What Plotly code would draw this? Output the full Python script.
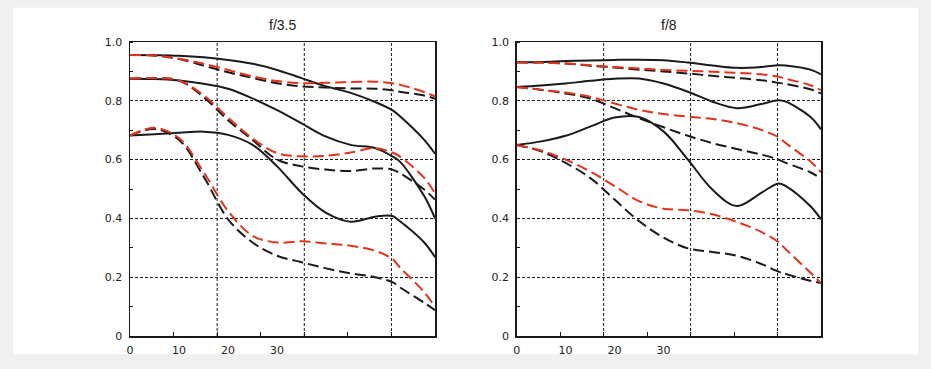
import plotly.graph_objects as go

# ---------------- data ----------------
x = [0, 5, 10, 15, 20, 25, 30, 35, 40, 45, 50, 53.5, 55, 60, 62.2]
x_max = 62.2
x_tick_labels = [0, 10, 20, 30]
y_tick_vals = [0, 0.2, 0.4, 0.6, 0.8, 1.0]
y_tick_text = ["0", "0.2", "0.4", "0.6", "0.8", "1.0"]
titles = ["f/3.5", "f/8"]

# f/3.5
a_solid_1 = [0.956, 0.955, 0.953, 0.948, 0.939, 0.926, 0.905, 0.877, 0.849, 0.827, 0.796, 0.768, 0.748, 0.667, 0.620]
a_solid_2 = [0.875, 0.874, 0.869, 0.858, 0.841, 0.808, 0.768, 0.723, 0.678, 0.650, 0.639, 0.611, 0.594, 0.476, 0.400]
a_solid_3 = [0.682, 0.686, 0.691, 0.695, 0.684, 0.650, 0.577, 0.487, 0.419, 0.389, 0.406, 0.408, 0.391, 0.318, 0.268]
a_black_1 = [0.956, 0.954, 0.942, 0.920, 0.897, 0.878, 0.860, 0.849, 0.845, 0.842, 0.841, 0.836, 0.831, 0.818, 0.807]
a_black_2 = [0.875, 0.877, 0.869, 0.813, 0.734, 0.667, 0.600, 0.577, 0.566, 0.561, 0.570, 0.566, 0.554, 0.498, 0.464]
a_black_3 = [0.682, 0.704, 0.667, 0.543, 0.397, 0.318, 0.273, 0.251, 0.230, 0.213, 0.200, 0.183, 0.166, 0.113, 0.088]
a_red_1 = [0.956, 0.954, 0.943, 0.926, 0.905, 0.883, 0.867, 0.860, 0.861, 0.864, 0.865, 0.860, 0.855, 0.830, 0.815]
a_red_2 = [0.875, 0.877, 0.869, 0.819, 0.743, 0.672, 0.622, 0.611, 0.613, 0.624, 0.639, 0.624, 0.611, 0.538, 0.485]
a_red_3 = [0.682, 0.708, 0.673, 0.558, 0.425, 0.341, 0.318, 0.322, 0.315, 0.307, 0.290, 0.262, 0.234, 0.149, 0.099]

# f/8
b_solid_1 = [0.931, 0.932, 0.935, 0.937, 0.939, 0.940, 0.938, 0.930, 0.920, 0.912, 0.915, 0.921, 0.920, 0.906, 0.890]
b_solid_2 = [0.847, 0.852, 0.859, 0.868, 0.875, 0.876, 0.859, 0.831, 0.797, 0.775, 0.789, 0.802, 0.797, 0.746, 0.703]
b_solid_3 = [0.650, 0.662, 0.681, 0.712, 0.743, 0.745, 0.696, 0.600, 0.498, 0.442, 0.487, 0.519, 0.510, 0.442, 0.397]
b_black_1 = [0.931, 0.930, 0.927, 0.919, 0.913, 0.906, 0.900, 0.893, 0.885, 0.878, 0.870, 0.861, 0.857, 0.839, 0.825]
b_black_2 = [0.847, 0.837, 0.825, 0.808, 0.775, 0.741, 0.710, 0.681, 0.656, 0.636, 0.617, 0.600, 0.589, 0.557, 0.536]
b_black_3 = [0.650, 0.628, 0.589, 0.538, 0.464, 0.391, 0.335, 0.298, 0.286, 0.273, 0.245, 0.219, 0.211, 0.188, 0.180]
b_red_1 = [0.931, 0.930, 0.927, 0.921, 0.915, 0.910, 0.905, 0.902, 0.899, 0.895, 0.890, 0.882, 0.875, 0.853, 0.836]
b_red_2 = [0.847, 0.838, 0.828, 0.814, 0.791, 0.769, 0.755, 0.746, 0.738, 0.724, 0.701, 0.676, 0.656, 0.594, 0.557]
b_red_3 = [0.650, 0.631, 0.600, 0.560, 0.510, 0.459, 0.433, 0.428, 0.414, 0.388, 0.354, 0.320, 0.295, 0.216, 0.180]

panels = [
    ([a_solid_1, a_solid_2, a_solid_3], [a_black_1, a_black_2, a_black_3], [a_red_1, a_red_2, a_red_3]),
    ([b_solid_1, b_solid_2, b_solid_3], [b_black_1, b_black_2, b_black_3], [b_red_1, b_red_2, b_red_3]),
]

# ---------------- figure ----------------
W, H = 931, 369
ml, mr, mt, mb = 130, 110, 41.5, 31.4
pw, ph = W - ml - mr, H - mt - mb

def px_x(p):
    return (p - ml) / pw

def px_y(p):
    return (H - mb - p) / ph

domains = [[0, px_x(435)], [px_x(516.7), 1]]

BLACK = "#1a1a1a"
RED = "#e5321d"
DASH = "11px,5px"

fig = go.Figure()
for i, (solids, blacks, reds) in enumerate(panels):
    xa = "x" if i == 0 else "x2"
    ya = "y" if i == 0 else "y2"
    for s in solids:
        fig.add_trace(go.Scatter(x=x, y=s, xaxis=xa, yaxis=ya, mode="lines",
                                 line=dict(color=BLACK, width=2, shape="spline", smoothing=1),
                                 showlegend=False, hoverinfo="skip"))
    for s in blacks:
        fig.add_trace(go.Scatter(x=x, y=s, xaxis=xa, yaxis=ya, mode="lines",
                                 line=dict(color=BLACK, width=2, dash=DASH, shape="spline", smoothing=1),
                                 showlegend=False, hoverinfo="skip"))
    for s in reds:
        fig.add_trace(go.Scatter(x=x, y=s, xaxis=xa, yaxis=ya, mode="lines",
                                 line=dict(color=RED, width=2, dash=DASH, shape="spline", smoothing=1),
                                 showlegend=False, hoverinfo="skip"))

tick_step = x_max / 7
minor_x = [tick_step * k for k in range(1, 7)]
grid_x = [tick_step * k for k in (2, 4, 6)]

tick_font = dict(family="DejaVu Sans", size=11, color="#222")

def xaxis_cfg(dom):
    return dict(domain=dom, range=[0, x_max], tickvals=x_tick_labels,
                ticktext=[str(v) for v in x_tick_labels], ticks="", showgrid=False,
                zeroline=False, showline=True, linecolor=BLACK, linewidth=1.5, mirror=True,
                tickfont=tick_font, ticklabelstandoff=3,
                minor=dict(tickvals=minor_x, ticks="inside", ticklen=4, tickcolor=BLACK,
                           tickwidth=1, showgrid=False))

def yaxis_cfg(anchor):
    return dict(domain=[0, 1], range=[0, 1], anchor=anchor, tickvals=y_tick_vals,
                ticktext=y_tick_text, ticks="", showgrid=True, gridcolor=BLACK,
                gridwidth=1, griddash="3px,2px", zeroline=False, showline=True,
                linecolor=BLACK, linewidth=1.5, mirror=True, tickfont=tick_font,
                ticklabelstandoff=4,
                minor=dict(dtick=0.1, tick0=0, ticks="inside", ticklen=3,
                           tickcolor=BLACK, tickwidth=1, showgrid=False))

shapes = [dict(type="rect", xref="paper", yref="paper", layer="below",
               x0=px_x(13), x1=px_x(918), y0=px_y(356), y1=px_y(7),
               fillcolor="white", line=dict(width=0))]
for xr in ("x", "x2"):
    for gx in grid_x:
        shapes.append(dict(type="line", xref=xr, yref="paper", layer="below",
                           x0=gx, x1=gx, y0=0, y1=1,
                           line=dict(color=BLACK, width=1, dash="3px,2px")))

annotations = []
for i, t in enumerate(titles):
    d = domains[i]
    annotations.append(dict(text=t, xref="paper", yref="paper",
                            x=(d[0] + d[1]) / 2, y=px_y(24), showarrow=False,
                            xanchor="center", yanchor="middle",
                            font=dict(family="Liberation Sans", size=14, color="#222")))

fig.update_layout(
    width=W, height=H,
    margin=dict(l=ml, r=mr, t=mt, b=mb, pad=0),
    paper_bgcolor="#f0f0f0", plot_bgcolor="white",
    xaxis=dict(**xaxis_cfg(domains[0]), anchor="y"),
    xaxis2=dict(**xaxis_cfg(domains[1]), anchor="y2"),
    yaxis=yaxis_cfg("x"),
    yaxis2=yaxis_cfg("x2"),
    shapes=shapes, annotations=annotations, showlegend=False,
)

fig.write_html(
    "out.html",
    config={"displayModeBar": False, "staticPlot": True},
    post_script="document.body.style.margin='0';document.body.style.overflow='hidden';"
                "document.body.style.background='#f0f0f0';",
)
